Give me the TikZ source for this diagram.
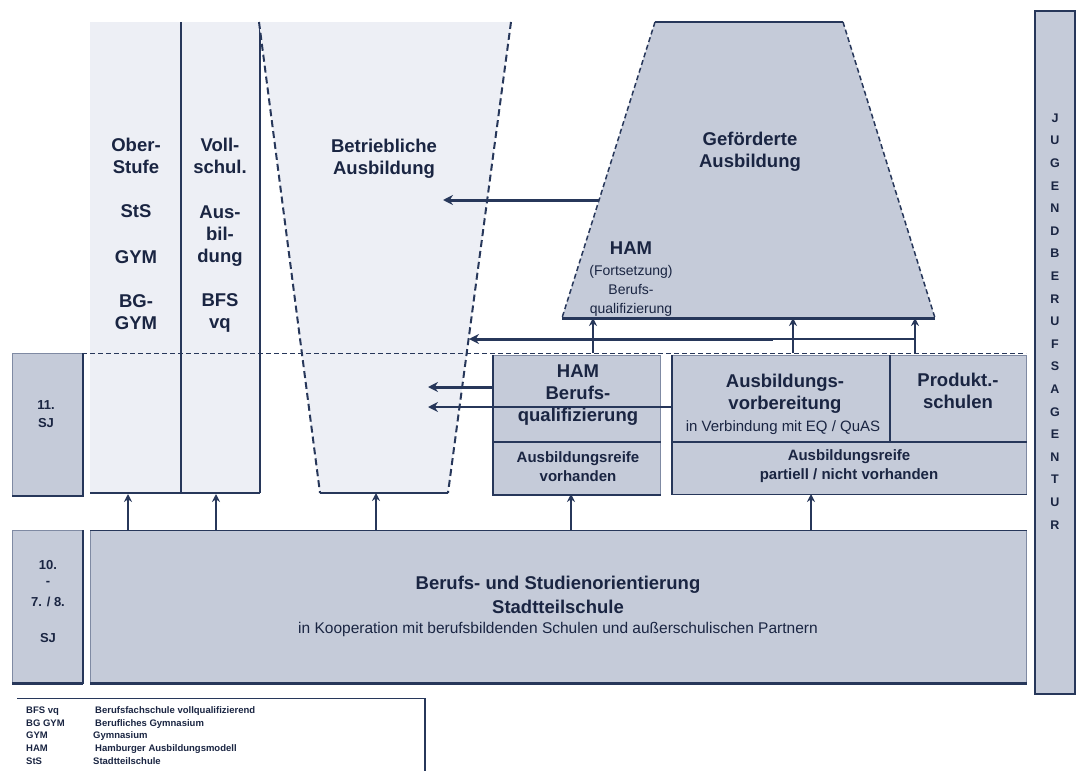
\documentclass[tikz,border=0pt]{standalone}
\usepackage{fontspec}
\setmainfont{Liberation Sans}
\usetikzlibrary{arrows.meta}
\definecolor{boxfill}{HTML}{C5CBD9}
\definecolor{lightfill}{HTML}{EDEFF5}
\definecolor{ink}{HTML}{27375A}
\definecolor{inklight}{HTML}{7F8AA3}
\definecolor{txt}{HTML}{1A2542}
\begin{document}
\begin{tikzpicture}[x=1pt,y=-1pt,
  lab/.style={text=txt,font=\bfseries\fontsize{18.5}{22}\selectfont,align=center,inner sep=0pt},
  sublab/.style={text=txt,font=\bfseries\fontsize{15}{19}\selectfont,align=center,inner sep=0pt},
  smalllab/.style={text=txt,font=\fontsize{15}{18}\selectfont,align=center,inner sep=0pt},
  hamsub/.style={text=txt,font=\fontsize{14}{19}\selectfont,align=center,inner sep=0pt},
  sjlab/.style={text=txt,font=\bfseries\fontsize{13}{18}\selectfont,align=center,inner sep=0pt},
  letterlab/.style={text=txt,font=\bfseries\fontsize{12.5}{14}\selectfont,inner sep=0pt},
  leglab/.style={text=txt,font=\bfseries\fontsize{9.5}{10}\selectfont,anchor=base west,inner sep=0pt},
  boxnode/.style={fill=boxfill,draw=inklight,line width=0.8pt,inner sep=0pt,anchor=north west},
  arr/.style={draw=ink,line width=2pt,-{Stealth[length=8pt,width=8pt]}},
  harr/.style={draw=ink,line width=3pt,-{Stealth[length=10pt,width=10pt]}},
  dashedge/.style={draw=ink,line width=2pt,dash pattern=on 7pt off 4pt},
  edgeline/.style={draw=ink,line width=2pt},
]
\useasboundingbox (0,0) rectangle (1077,771);

% ---------- left light columns ----------
\fill[lightfill] (90,22) rectangle (260,493);
\draw[edgeline,line width=1.5pt] (181,22) -- (181,493);
\draw[edgeline,line width=2.5pt] (260,22) -- (260,493);
\draw[edgeline] (90,493) -- (260,493);

% ---------- Betriebliche Ausbildung trapezoid ----------
\coordinate (bTL) at (259,22);
\coordinate (bTR) at (511,22);
\coordinate (bBR) at (448,493);
\coordinate (bBL) at (320,493);
\fill[lightfill] (bTL) -- (bTR) -- (bBR) -- (bBL) -- cycle;
\draw[dashedge] (bTL) -- (bBL);
\draw[dashedge] (bTR) -- (bBR);
\draw[edgeline] (bBL) -- (bBR);

% ---------- Geförderte Ausbildung trapezoid ----------
\coordinate (gTL) at (655,22);
\coordinate (gTR) at (843,22);
\coordinate (gBR) at (935,318);
\coordinate (gBL) at (562,318);
\fill[boxfill] (gTL) -- (gTR) -- (gBR) -- (gBL) -- cycle;
\draw[edgeline,line width=1.5pt] (gTL) -- (gTR);
\draw[dashedge,line width=1.5pt,dash pattern=on 5pt off 3pt] (gTL) -- (gBL);
\draw[dashedge,line width=1.5pt,dash pattern=on 5pt off 3pt] (gTR) -- (gBR);
\draw[edgeline,line width=3pt] (gBL) -- (gBR);

% ---------- boxes ----------
\node[boxnode,minimum width=70pt,minimum height=142pt] (sj11) at (12,353) {};
\node[boxnode,minimum width=167pt,minimum height=139pt] (ham) at (493,355) {};
\node[boxnode,minimum width=354pt,minimum height=139pt] (avb) at (672,355) {};
\node[boxnode,minimum width=70pt,minimum height=153pt] (sj10) at (12,530) {};
\node[boxnode,minimum width=936pt,minimum height=153pt] (bso) at (90,530) {};
\node[boxnode,draw=ink,line width=1.5pt,minimum width=40pt,minimum height=683pt] (jba) at (1034,10) {};

% emphasised borders
\draw[edgeline] (sj11.north east) -- (sj11.south east) -- (sj11.south west);
\draw[edgeline] (sj10.north east) -- (sj10.south east);
\draw[edgeline,line width=3pt] (sj10.south west) -- (sj10.south east);
\draw[edgeline] (ham.north west) -- (ham.south west) -- (ham.south east);
\draw[edgeline] (avb.north west) -- (avb.south west);
\draw[edgeline,line width=1.2pt] (avb.south west) -- (avb.south east);
\draw[edgeline,line width=1pt] (bso.north west) -- (bso.north east);
\draw[edgeline,line width=3pt] (bso.south west) -- (bso.south east);

% inner dividers
\coordinate (hamdiv) at (493,442);
\coordinate (avbdiv) at (672,442);
\draw[edgeline,line width=1.2pt] (hamdiv) -- (hamdiv -| ham.east);
\draw[edgeline,line width=1.2pt] (avbdiv) -- (avbdiv -| avb.east);
\coordinate (pdiv) at (890,355);
\draw[edgeline] (pdiv) -- (890,442);

% dashed year line
\coordinate (dl) at (82,353);
\coordinate (dr) at (1026,353);
\draw[draw=ink,line width=1pt,dash pattern=on 5pt off 3pt] (dl) -- (dr);

% ---------- arrows ----------
\foreach \xx/\yy in {128/494,216/494,376/493,571/494,811/494}{
  \draw[arr] (bso.north -| \xx,0) -- (\xx,\yy);
}
\foreach \xx in {593,793,915}{
  \draw[arr] (\xx,353) -- (\xx,318);
}
\coordinate (hline) at (915,339);
\coordinate (btip) at (469,339);
\draw[draw=ink,line width=1.5pt] (hline) -- (773,339);
\draw[harr] (773,339) -- (btip);
\coordinate (gleft) at (599,200);
\coordinate (gtip) at (443,200);
\draw[harr] (gleft) -- (gtip);
\coordinate (hamleft) at (493,387);
\coordinate (hamtip) at (428,387);
\draw[harr] (hamleft) -- (hamtip);
\coordinate (avbleft) at (672,407);
\coordinate (avbtip) at (428,407);
\draw[harr,line width=1.8pt] (avbleft) -- (avbtip);

% ---------- texts ----------
\node[lab] (t1a) at (136,155.5) {Ober-\\Stufe};
\node[lab] (t1b) at (136,211) {StS};
\node[lab] (t1c) at (136,257) {GYM};
\node[lab] (t1d) at (136,312.5) {BG-\\GYM};
\node[lab] (t2a) at (220,155.5) {Voll-\\schul.};
\node[lab] (t2b) at (220,236) {Aus-\\bil-\\dung};
\node[lab] (t2c) at (220,312.5) {BFS\\vq};
\node[lab] (tba) at (384,159) {Betriebliche\\Ausbildung};
\node[lab] (tga) at (750,152) {Geförderte\\Ausbildung};
\node[lab] (tgham) at (631,248) {HAM};
\node[hamsub] (tgsub) at (631,291) {(Fortsetzung)\\Berufs-\\qualifizierung};

\node[lab] (tham) at (578,395) {HAM\\Berufs-\\qualifizierung};
\node[sublab] (thamr) at (578,466.5) {Ausbildungsreife\\vorhanden};
\node[lab] (tavb) at (785,394) {Ausbildungs-\\vorbereitung};
\node[smalllab] (tavbs) at (783,428) {in Verbindung mit EQ / QuAS};
\node[lab] (tps) at (958,391) {Produkt.-\\schulen};
\node[sublab] (tavbr) at (849,466.5) {Ausbildungsreife\\partiell / nicht vorhanden};

\node[lab] (tbso1) at (558,585) {Berufs- und Studienorientierung};
\node[lab] (tbso2) at (558,607) {Stadtteilschule};
\node[smalllab,font=\fontsize{15.5}{18}\selectfont] (tbso3) at (558,629) {in Kooperation mit berufsbildenden Schulen und außerschulischen Partnern};

\node[sjlab] (tsj11) at (46,414) {11.\\SJ};
\node[sjlab] (tsj10a) at (48,565) {10.};
\node[sjlab] (tsj10b) at (48,583) {-};
\node[sjlab] (tsj10c) at (48,602) {7. / 8.};
\node[sjlab] (tsj10d) at (48,638) {SJ};

\foreach \ch [count=\i from 0] in {J,U,G,E,N,D,B,E,R,U,F,S,A,G,E,N,T,U,R}{
  \node[letterlab] (jl\i) at (1055,118+22.6*\i) {\ch};
}

% ---------- legend ----------
\coordinate (lgTL) at (17,698);
\coordinate (lgTR) at (425,698);
\draw[draw=ink,line width=1pt] (lgTL) -- (lgTR);
\draw[draw=ink,line width=2.5pt] (lgTR) -- (425,771);
\node[leglab] (l1a) at (26,713.5) {BFS vq};
\node[leglab] (l1b) at (95,713.5) {Berufsfachschule vollqualifizierend};
\node[leglab] (l2a) at (26,726) {BG GYM};
\node[leglab] (l2b) at (95,726) {Berufliches Gymnasium};
\node[leglab] (l3a) at (26,738.5) {GYM};
\node[leglab] (l3b) at (93,738.5) {Gymnasium};
\node[leglab] (l4a) at (26,751) {HAM};
\node[leglab] (l4b) at (95,751) {Hamburger Ausbildungsmodell};
\node[leglab] (l5a) at (26,764) {StS};
\node[leglab] (l5b) at (93,764) {Stadtteilschule};
\end{tikzpicture}
\end{document}
